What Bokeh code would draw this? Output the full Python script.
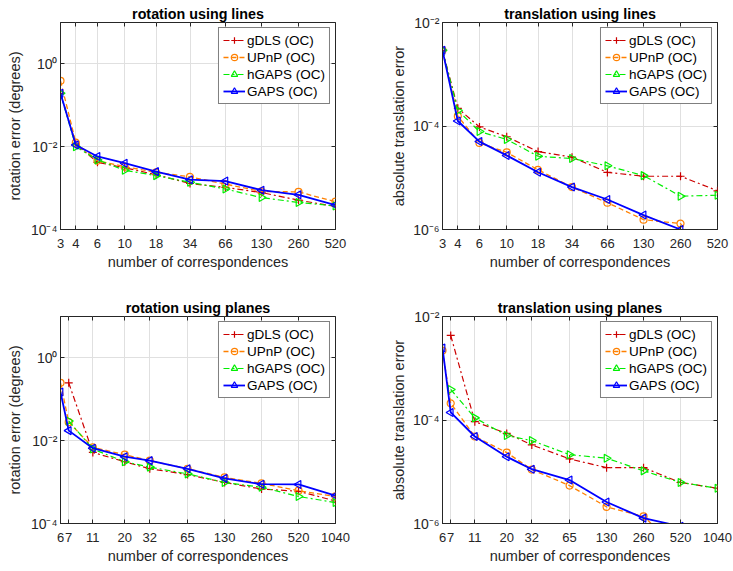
import math
from bokeh.plotting import figure
from bokeh.models import (Range1d, FixedTicker, CustomJSTickFormatter, LogAxis,
                          Legend, LegendItem)
from bokeh.layouts import column, row
from bokeh.embed import file_html
from bokeh.resources import INLINE

# ---------------- data ----------------
x_lines = [3, 4, 6, 10, 18, 34, 66, 130, 260, 520]
x_planes = [6, 7, 11, 20, 32, 65, 130, 260, 520, 1040]
nan = float("nan")

# rotation using lines
rl_gdls = [0.195, 0.0115, 0.0042, 0.0031, 0.0021, 0.00129, 0.00104, 0.00078, 0.00051, 0.00036]
rl_upnp = [0.39, 0.0125, 0.0046, 0.0033, 0.0024, 0.00187, 0.00125, 0.00083, 0.00081, 0.00047]
rl_hgaps = [0.195, 0.0100, 0.0048, 0.0027, 0.0020, 0.00138, 0.00095, 0.00059, 0.00045, 0.00037]
rl_gaps = [0.195, 0.0110, 0.0058, 0.0040, 0.0025, 0.00160, 0.00148, 0.00089, 0.00069, 0.00039]

# translation using lines
tl_gdls = [2.9e-3, 2.2e-4, 9.6e-5, 6.2e-5, 3.2e-5, 2.5e-5, 1.27e-5, 1.07e-5, 1.07e-5, 5.6e-6]
tl_upnp = [2.9e-3, 1.55e-4, 4.7e-5, 3.1e-5, 1.42e-5, 6.6e-6, 3.3e-6, 1.55e-6, 1.3e-6, 2e-7]
tl_hgaps = [2.9e-3, 2.0e-4, 7.8e-5, 5.5e-5, 2.6e-5, 2.35e-5, 1.7e-5, 1.1e-5, 4.4e-6, 4.6e-6]
tl_gaps = [2.9e-3, 1.25e-4, 5.0e-5, 2.7e-5, 1.28e-5, 6.6e-6, 3.8e-6, 1.9e-6, 1.0e-6, 3e-7]

# rotation using planes
rp_gdls = [nan, 0.25, 0.0052, 0.0031, 0.0021, 0.00152, 0.00098, 0.00068, 0.00060, 0.00035]
rp_upnp = [0.25, 0.028, 0.0069, 0.0046, 0.0033, 0.0021, 0.0013, 0.00093, 0.00062, 0.00045]
rp_hgaps = [nan, 0.030, 0.0063, 0.0031, 0.0023, 0.00158, 0.00098, 0.00075, 0.00045, 0.00032]
rp_gaps = [0.15, 0.0175, 0.0066, 0.0041, 0.0033, 0.0021, 0.00123, 0.00089, 0.00088, 0.00047]

# translation using planes
tp_gdls = [nan, 4.3e-3, 9.3e-5, 5.5e-5, 3.3e-5, 1.77e-5, 1.2e-5, 1.2e-5, 6.2e-6, 4.8e-6]
tp_upnp = [2.2e-3, 2.1e-4, 4.8e-5, 2.35e-5, 1.1e-5, 5.4e-6, 2.1e-6, 1.37e-6, 3e-7, 2e-7]
tp_hgaps = [nan, 3.9e-4, 1.1e-4, 5.0e-5, 4.0e-5, 2.14e-5, 1.83e-5, 1.04e-5, 6.2e-6, 4.8e-6]
tp_gaps = [2.47e-3, 1.4e-4, 4.8e-5, 1.95e-5, 1.12e-5, 6.9e-6, 2.6e-6, 1.27e-6, 8.8e-7, 5e-7]

labels = ["gDLS (OC)", "UPnP (OC)", "hGAPS (OC)", "GAPS (OC)"]
rot_yticks = [1e-4, 1e-2, 1e0]
trans_yticks = [1e-6, 1e-4, 1e-2]

# ---------------- styling ----------------
FONT = "Liberation Sans"
TXT = "#262626"
styles = [
    dict(color="#cc0000", dash="6 3 2 3", width=1.2, marker="cross", size=8, angle=0.0),
    dict(color="#ff8000", dash="5 3", width=1.3, marker="circle", size=7, angle=0.0),
    dict(color="#00ee00", dash="6 3 2 3", width=1.2, marker="triangle", size=8, angle=-math.pi / 2),
    dict(color="#0000ff", dash="solid", width=1.8, marker="triangle", size=8, angle=math.pi / 2),
]


def num_fmt():
    return CustomJSTickFormatter(code="return String(Math.round(tick));")


def pow_fmt():
    return CustomJSTickFormatter(code="""
const sup = {'-':'\u207b','0':'\u2070','1':'\u00b9','2':'\u00b2','3':'\u00b3','4':'\u2074',
             '5':'\u2075','6':'\u2076','7':'\u2077','8':'\u2078','9':'\u2079'};
const e = Math.round(Math.log10(tick));
return '10' + String(e).split('').map(c => sup[c]).join('');
""")


def panel(title, xs, ylabel, yr, yticks, series, xr, left, right, top, bottom, ylab_standoff):
    p = figure(x_axis_type="log", y_axis_type="log",
               x_range=Range1d(*xr), y_range=Range1d(*yr),
               frame_width=275, frame_height=207,
               min_border_left=left, min_border_right=right,
               min_border_top=top, min_border_bottom=bottom,
               output_backend="svg", toolbar_location=None, title=title)
    p.title.text_font = FONT
    p.title.text_font_size = "14.3px"
    p.title.text_font_style = "bold"
    p.title.text_color = "black"
    p.title.align = "center"
    p.title.standoff = 2

    xt = FixedTicker(ticks=xs)
    yt = FixedTicker(ticks=yticks)
    p.xaxis.ticker = xt
    p.xaxis.formatter = num_fmt()
    p.xaxis.axis_label = "number of correspondences"
    p.xaxis.major_label_standoff = 9
    p.xaxis.axis_label_standoff = 3
    p.xaxis.major_label_text_font_size = "13px"
    p.yaxis.ticker = yt
    p.yaxis.formatter = pow_fmt()
    p.yaxis.axis_label = ylabel
    p.yaxis.major_label_standoff = 3
    p.yaxis.axis_label_standoff = ylab_standoff
    p.yaxis.major_label_text_font_size = "14px"
    for ax in (p.xaxis, p.yaxis):
        ax.major_tick_in = 4
        ax.major_tick_out = 0
        ax.minor_tick_line_color = None
        ax.axis_line_color = TXT
        ax.major_tick_line_color = TXT
        ax.major_label_text_font = FONT
        ax.major_label_text_color = TXT
        ax.axis_label_text_font = FONT
        ax.axis_label_text_font_size = "14.5px"
        ax.axis_label_text_font_style = "normal"
        ax.axis_label_text_color = TXT

    # inward tick marks on the top and right edges of the box (MATLAB style)
    for loc, tk in (("above", xt), ("right", yt)):
        ax = LogAxis(ticker=tk, major_label_text_font_size="1px", major_label_text_alpha=0,
                     major_label_standoff=0, major_tick_in=4, major_tick_out=0,
                     minor_tick_line_color=None, axis_line_color=None,
                     major_tick_line_color=TXT)
        p.add_layout(ax, loc)

    p.xgrid.ticker = xt
    p.ygrid.ticker = yt
    p.grid.grid_line_color = "#e0e0e0"
    p.outline_line_color = TXT
    p.outline_line_alpha = 1.0
    p.background_fill_color = "white"
    p.border_fill_color = "white"

    items = []
    for lab, ys, st in zip(labels, series, styles):
        lr = p.line(xs, ys, line_color=st["color"], line_width=st["width"], line_dash=st["dash"])
        sr = p.scatter(xs, ys, marker=st["marker"], size=st["size"], angle=st["angle"],
                       line_color=st["color"], fill_color=None, line_width=1.2)
        items.append(LegendItem(label=lab, renderers=[lr, sr]))
    leg = Legend(items=items, location="top_right")
    leg.border_line_color = "black"
    leg.border_line_width = 1
    leg.background_fill_color = "white"
    leg.background_fill_alpha = 1
    leg.label_text_font = FONT
    leg.label_text_font_size = "13.5px"
    leg.label_text_color = "black"
    leg.glyph_width = 22
    leg.glyph_height = 16
    leg.label_height = 16
    leg.spacing = 1
    leg.padding = 4
    leg.margin = 5
    leg.label_standoff = 2
    p.add_layout(leg)
    return p


p1 = panel("rotation using lines", x_lines, "rotation error (degrees)", (1e-4, 1e1), rot_yticks,
           [rl_gdls, rl_upnp, rl_hgaps, rl_gaps], (3, 520), 60, 31, 22, 56, 5)
p2 = panel("translation using lines", x_lines, "absolute translation error", (1e-6, 1e-2), trans_yticks,
           [tl_gdls, tl_upnp, tl_hgaps, tl_gaps], (3, 520), 76, 16, 22, 56, 3)
p3 = panel("rotation using planes", x_planes, "rotation error (degrees)", (1e-4, 1e1), rot_yticks,
           [rp_gdls, rp_upnp, rp_hgaps, rp_gaps], (6, 1040), 60, 31, 31, 48, 5)
p4 = panel("translation using planes", x_planes, "absolute translation error", (1e-6, 1e-2), trans_yticks,
           [tp_gdls, tp_upnp, tp_hgaps, tp_gaps], (6, 1040), 76, 16, 31, 48, 3)

layout = column(row(p1, p2), row(p3, p4))
open("out.html", "w").write(file_html(layout, INLINE))
